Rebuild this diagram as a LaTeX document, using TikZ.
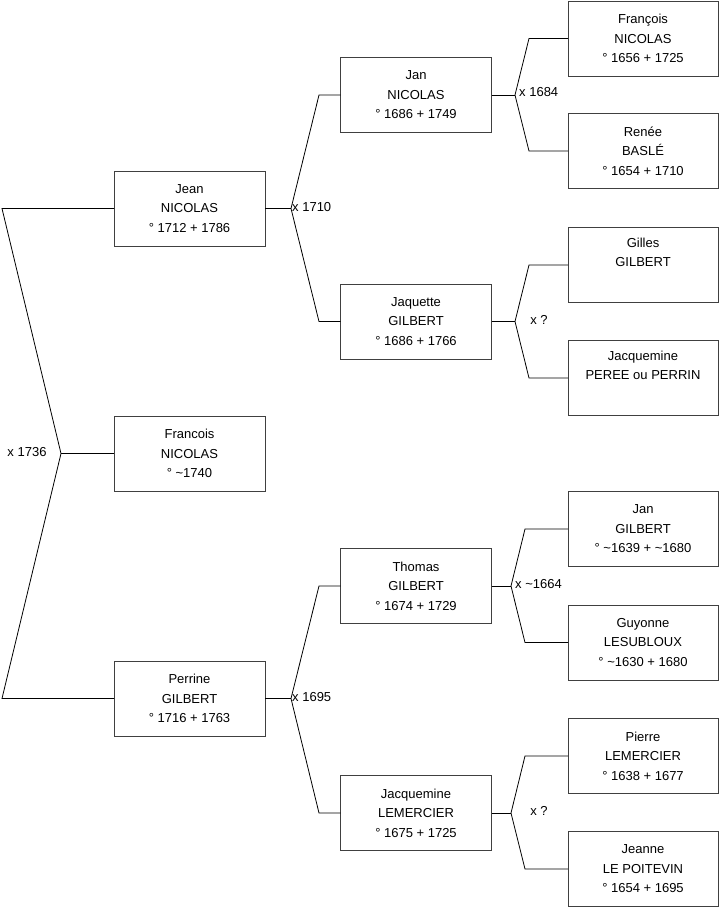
\documentclass[tikz,border=0pt]{standalone}
\usepackage{fontspec}
\setmainfont{Liberation Sans}
\begin{document}
\begin{tikzpicture}[x=1pt,y=-1pt,
  person/.style={draw=black!75,line width=0.9pt,minimum width=151pt,minimum height=75pt,
    inner sep=0pt,outer sep=0pt,align=center,font=\fontsize{13}{19.5}\selectfont},
  link/.style={draw=black,line width=0.8pt},
  marr/.style={font=\fontsize{13}{15}\selectfont,inner sep=1pt}]
\useasboundingbox[fill=white] (0,0) rectangle (719,908);
% generation 1
\node[person] (jean) at (189.5,208.5) {Jean\\NICOLAS\\° 1712 + 1786};
\node[person] (francois) at (189.5,453.5) {Francois\\NICOLAS\\° \textasciitilde1740};
\node[person] (perrine) at (189.5,698.5) {Perrine\\GILBERT\\° 1716 + 1763};
% generation 2
\node[person] (jan) at (416,95) {Jan\\NICOLAS\\° 1686 + 1749};
\node[person] (jaquette) at (416,321.5) {Jaquette\\GILBERT\\° 1686 + 1766};
\node[person] (thomas) at (416,586) {Thomas\\GILBERT\\° 1674 + 1729};
\node[person] (jacquemine) at (416,813) {Jacquemine\\LEMERCIER\\° 1675 + 1725};
% generation 3
\node[person,minimum width=150pt] (fnicolas) at (643,38.5) {François\\NICOLAS\\° 1656 + 1725};
\node[person,minimum width=150pt] (renee) at (643,151) {Renée\\BASLÉ\\° 1654 + 1710};
\node[person,minimum width=150pt] (gilles) at (643,265) {Gilles\\GILBERT\\\strut};
\node[person,minimum width=150pt] (jperee) at (643,378) {Jacquemine\\PEREE ou PERRIN\\\strut};
\node[person,minimum width=150pt] (jangilbert) at (643,529) {Jan\\GILBERT\\° \textasciitilde1639 + \textasciitilde1680};
\node[person,minimum width=150pt] (guyonne) at (643,642.5) {Guyonne\\LESUBLOUX\\° \textasciitilde1630 + 1680};
\node[person,minimum width=150pt] (pierre) at (643,756) {Pierre\\LEMERCIER\\° 1638 + 1677};
\node[person,minimum width=150pt] (jeanne) at (643,869) {Jeanne\\LE POITEVIN\\° 1654 + 1695};
% fork coordinates
\coordinate (f0) at (61,453.5);
\coordinate (f0a) at (2,208.5);
\coordinate (f0b) at (2,698.5);
\coordinate (f1) at (291,208.5);
\coordinate (f1a) at (319,95);
\coordinate (f1b) at (319,321.5);
\coordinate (f2) at (291,698.5);
\coordinate (f2a) at (319,586);
\coordinate (f2b) at (319,813);
\coordinate (f3) at (515,95);
\coordinate (f3a) at (529,38.5);
\coordinate (f3b) at (529,151);
\coordinate (f4) at (515,321.5);
\coordinate (f4a) at (529,265);
\coordinate (f4b) at (529,378);
\coordinate (f5) at (511,586);
\coordinate (f5a) at (525,529);
\coordinate (f5b) at (525,642.5);
\coordinate (f6) at (511,813);
\coordinate (f6a) at (525,756);
\coordinate (f6b) at (525,869);
% connectors
\draw[link] (jean.west) -- (f0a) -- (f0) -- (f0b) -- (perrine.west);
\draw[link] (f0) -- (francois.west);
\draw[link] (jean.east) -- (f1);
\draw[link] (f1) -- (f1a) -- (jan.west);
\draw[link] (f1) -- (f1b) -- (jaquette.west);
\draw[link] (perrine.east) -- (f2);
\draw[link] (f2) -- (f2a) -- (thomas.west);
\draw[link] (f2) -- (f2b) -- (jacquemine.west);
\draw[link] (jan.east) -- (f3);
\draw[link] (f3) -- (f3a) -- (fnicolas.west);
\draw[link] (f3) -- (f3b) -- (renee.west);
\draw[link] (jaquette.east) -- (f4);
\draw[link] (f4) -- (f4a) -- (gilles.west);
\draw[link] (f4) -- (f4b) -- (jperee.west);
\draw[link] (thomas.east) -- (f5);
\draw[link] (f5) -- (f5a) -- (jangilbert.west);
\draw[link] (f5) -- (f5b) -- (guyonne.west);
\draw[link] (jacquemine.east) -- (f6);
\draw[link] (f6) -- (f6a) -- (pierre.west);
\draw[link] (f6) -- (f6b) -- (jeanne.west);
% marriage labels
\node[marr] (m0) at (27,452) {x 1736};
\node[marr,anchor=west] (m1) at (291,207) {x 1710};
\node[marr,anchor=west] (m2) at (291,697) {x 1695};
\node[marr,anchor=west] (m3) at (518,92) {x 1684};
\node[marr] (m4) at (539,320) {x ?};
\node[marr,anchor=west] (m5) at (514,584) {x \textasciitilde1664};
\node[marr] (m6) at (539,811) {x ?};
\end{tikzpicture}
\end{document}
